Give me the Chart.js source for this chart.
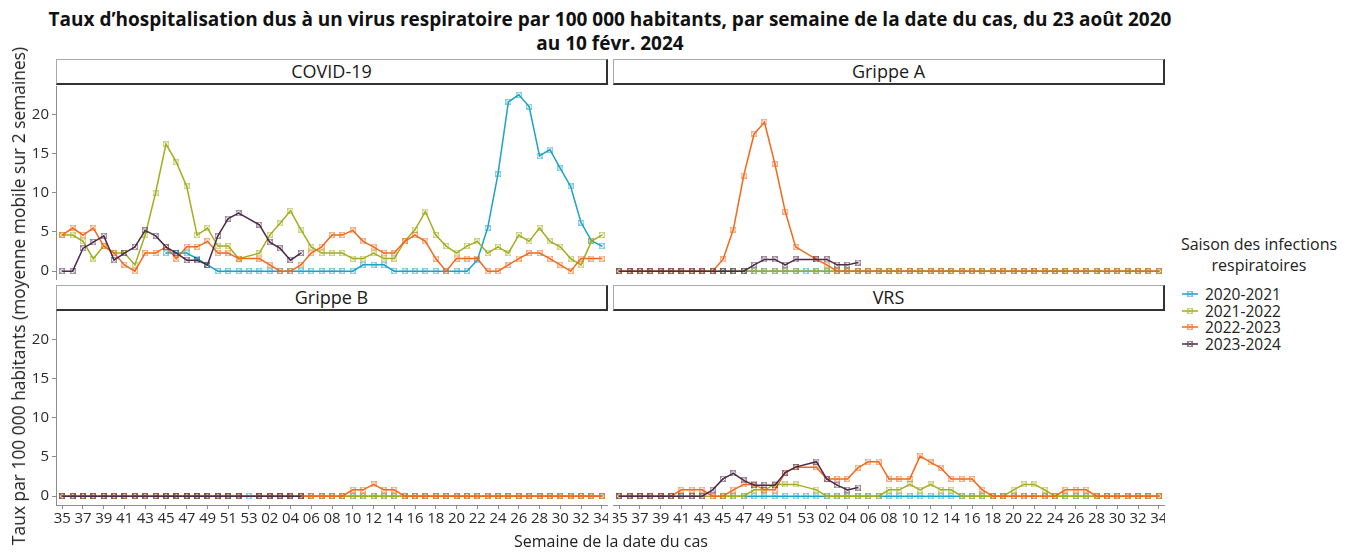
<!DOCTYPE html>
<html>
<head>
<meta charset="utf-8">
<title>Taux d'hospitalisation - virus respiratoires</title>
<script src="https://cdn.jsdelivr.net/npm/chart.js"></script>
<style>
    body { margin: 0; width: 1354px; height: 552px; background: #ffffff; position: relative; overflow: hidden; font-family: 'Open Sans', sans-serif; color: #222; }
    .title { position: absolute; left: 0; width: 1220px; top: 7px; text-align: center; font-weight: 700; font-size: 19px; line-height: 24px; color: #111; }
    .strip { position: absolute; box-sizing: border-box; height: 26px; border-top: 1px solid #aaa; border-left: 1px solid #aaa; border-right: 2px solid #333; border-bottom: 2px solid #333; text-align: center; font-size: 18px; line-height: 22px; color: #1a1a1a; background: #fff; }
    canvas { position: absolute; }
    .ytitle { position: absolute; left: 18px; top: 296px; transform: translate(-50%, -50%) rotate(-90deg); white-space: nowrap; font-size: 17.4px; color: #222; }
    .xtitle { position: absolute; left: 0; width: 1222px; top: 530px; text-align: center; font-size: 16px; color: #222; }
    .legend { position: absolute; left: 1171px; top: 234px; width: 176px; font-size: 16px; color: #222; }
    .legend .lt { text-align: center; line-height: 21px; margin-bottom: 10px; }
    .legend .item { height: 16.7px; line-height: 16.7px; position: relative; }
    .legend .item svg { position: absolute; left: 10px; top: 2px; }
    .legend .item span { margin-left: 34px; font-size: 15.5px; }
</style>
</head>
<body>
<div class="title">Taux d’hospitalisation dus à un virus respiratoire par 100 000 habitants, par semaine de la date du cas, du 23 août 2020<br>au 10 févr. 2024</div>

<div class="strip" style="left:56px; top:59px; width:552px;">COVID-19</div>
<div class="strip" style="left:613px; top:59px; width:552px;">Grippe A</div>
<div class="strip" style="left:56px; top:285px; width:552px;">Grippe B</div>
<div class="strip" style="left:613px; top:285px; width:552px;">VRS</div>

<canvas id="covid" width="608" height="194" style="left:0; top:86px;"></canvas>
<canvas id="grippeA" width="552" height="194" style="left:613px; top:86px;"></canvas>
<canvas id="grippeB" width="608" height="224" style="left:0; top:311px;"></canvas>
<canvas id="vrs" width="552" height="224" style="left:613px; top:311px;"></canvas>

<div class="ytitle">Taux par 100 000 habitants (moyenne mobile sur 2 semaines)</div>
<div class="xtitle">Semaine de la date du cas</div>
<div class="legend" id="legend">
    <div class="lt">Saison des infections<br>respiratoires</div>
</div>

<script>
// Semaines (axe x) : 35..52, 53, 01..34
const weeks = ['35','36','37','38','39','40','41','42','43','44','45','46','47','48','49','50','51','52','53',
    '01','02','03','04','05','06','07','08','09','10','11','12','13','14','15','16','17','18','19','20',
    '21','22','23','24','25','26','27','28','29','30','31','32','33','34'];
const seasons = ['2020-2021', '2021-2022', '2022-2023', '2023-2024'];
const colors = ['#1ba3c6', '#a3ad1e', '#f2691c', '#4d2a47'];
const yTicks = [0, 5, 10, 15, 20];

const N = null;
const zeros = (n) => Array(n).fill(0);
const nulls = (n) => Array(n).fill(null);

// COVID-19
const covid2020 = [...nulls(10), 2.3, 2.3, 2.3, 1.6, 0.8, ...zeros(14), 0.8, 0.8, 0.8, ...zeros(8),
    1.4, 5.5, 12.4, 21.6, 22.5, 21.0, 14.7, 15.5, 13.1, 10.8, 6.2, 3.9, 3.2];
const covid2021 = [4.6, 4.6, 3.8, 1.6, 3.2, 2.3, 2.3, 0.8, 4.6, 10.0, 16.2, 13.9, 10.8, 4.6, 5.5, 3.2, 3.2, 1.6, N,
    2.3, 4.6, 6.1, 7.7, 5.3, 3.1,
    2.3, 2.3, 2.3, 1.6, 1.6, 2.3, 1.6, 1.6, 3.8, 5.3, 7.6, 4.6, 3.2, 2.3, 3.2, 3.8,
    2.3, 3.1, 2.3, 4.6, 3.8, 5.5, 3.8, 3.1, 1.6, 0.8, 3.8, 4.6];
const covid2022 = [4.6, 5.5, 4.6, 5.5, 3.2, 2.3, 0.8, 0, 2.3, 2.3, 3.1, 1.6, 3.1, 3.1, 3.8, 2.3, 2.3, 1.6, N,
    1.6, 0.8, 0, 0, 0.8, 2.3,
    3.1, 4.6, 4.6, 5.2, 3.8, 3.1, 2.3, 2.3, 3.8, 4.6, 3.8, 1.6, 0, 1.6, 1.6, 1.6,
    0, 0, 0.8, 1.6, 2.3, 2.3, 1.6, 0.8, 0, 1.6, 1.6, 1.6];
const covid2023 = [0, 0, 2.9, 3.7, 4.5, 1.4, 2.3, 3.1, 5.2, 4.5, 3.1, 2.3, 1.4, 1.4, 0.8, 4.5, 6.7, 7.4, N,
    5.9, 3.7, 2.9, 1.4, 2.3, ...nulls(29)];

// Grippe A
const grippeA2020 = [...nulls(10), ...zeros(43)];
const grippeA2021 = [...zeros(18), N, ...zeros(34)];
const grippeA2022 = [...zeros(10), 1.5, 5.3, 12.2, 17.5, 19.0, 13.7, 7.6, 3.1, N, 1.5, 0.8, ...zeros(32)];
const grippeA2023 = [...zeros(13), 0.8, 1.5, 1.5, 0.8, 1.5, N, 1.5, 1.5, 0.8, 0.8, 1.1, ...nulls(29)];

// Grippe B
const grippeB2020 = [...nulls(10), ...zeros(43)];
const grippeB2021 = [...zeros(18), N, ...zeros(34)];
const grippeB2022 = [...zeros(18), N, ...zeros(9), 0.8, 0.8, 1.5, 0.8, 0.8, ...zeros(20)];
const grippeB2023 = [...zeros(18), N, ...zeros(5), ...nulls(29)];

// VRS
const vrs2020 = [...nulls(10), ...zeros(43)];
const vrs2021 = [...zeros(13), 0.8, 0.8, 1.5, 1.5, 1.5, N, 0.8, ...zeros(6),
    0.8, 0.8, 1.5, 0.8, 1.5, 0.8, 0.8, ...zeros(5), 0.8, 1.5, 1.5, 0.8, ...zeros(11)];
const vrs2022 = [...zeros(6), 0.8, 0.8, 0.8, 0, 0, 0.8, 1.5, 1.5, 0.8, 0.8, 3.0, 3.7, N,
    3.7, 2.2, 2.2, 2.2, 3.6, 4.4, 4.4, 2.2, 2.2, 2.2, 5.1, 4.3, 3.6, 2.2, 2.2, 2.2, 0.8,
    ...zeros(7), 0.8, 0.8, 0.8, ...zeros(7)];
const vrs2023 = [...zeros(9), 0.8, 2.2, 2.9, 2.0, 1.4, 1.4, 1.4, 3.0, 3.7, N,
    4.4, 2.2, 1.4, 0.8, 1.1, ...nulls(29)];

// marqueur carré barré (comme shape 7 de ggplot)
function makeMarker(color) {
    const c = document.createElement('canvas');
    c.width = 6; c.height = 6;
    const g = c.getContext('2d');
    g.globalAlpha = 0.5;
    g.strokeStyle = color;
    g.lineWidth = 1;
    g.strokeRect(0.5, 0.5, 5, 5);
    g.beginPath();
    g.moveTo(0.5, 0.5); g.lineTo(5.5, 5.5);
    g.moveTo(5.5, 0.5); g.lineTo(0.5, 5.5);
    g.stroke();
    return c;
}
const markers = colors.map(makeMarker);

const axisColor = '#8c8c8c';
const tickFont = { family: 'Open Sans', size: 15 };

// pas de marge automatique pour les étiquettes : la zone du graphique = le panneau
function noPad(s) { s.paddingTop = 0; s.paddingBottom = 0; s.paddingLeft = 0; s.paddingRight = 0; }

function makePanel(id, series, showY, showX) {
    new Chart(document.getElementById(id), {
        type: 'line',
        data: {
            datasets: series.map((vals, k) => ({
                label: seasons[k],
                data: vals.map((v, i) => ({ x: i, y: v })),
                borderColor: colors[k],
                backgroundColor: colors[k],
                borderWidth: 1.5,
                pointStyle: markers[k],
                pointRadius: 3,
                spanGaps: true,
                tension: 0,
                order: 4 - k
            }))
        },
        options: {
            responsive: false,
            animation: false,
            events: [],
            layout: { padding: 0, autoPadding: false },
            plugins: { legend: { display: false }, tooltip: { enabled: false } },
            scales: {
                x: {
                    type: 'linear',
                    min: -0.6,
                    max: 52.6,
                    display: showX,
                    afterBuildTicks: (s) => { s.ticks = weeks.map((w, i) => ({ value: i })).filter(t => t.value % 2 === 0); },
                    afterFit: (s) => { s.height = showX ? 30 : 0; noPad(s); },
                    grid: { drawOnChartArea: false, drawTicks: true, tickLength: 4, color: axisColor },
                    border: { display: true, color: axisColor, width: 1 },
                    ticks: { autoSkip: false, maxRotation: 0, padding: 1, color: '#2b2b2b', font: tickFont,
                        callback: (v) => weeks[v] }
                },
                y: {
                    min: -1.13,
                    max: 23.62,
                    display: showY,
                    afterBuildTicks: (s) => { s.ticks = yTicks.map(v => ({ value: v })); },
                    afterFit: (s) => { s.width = showY ? 56 : 0; noPad(s); },
                    grid: { drawOnChartArea: false, drawTicks: true, tickLength: 4, color: axisColor },
                    border: { display: true, color: axisColor, width: 1 },
                    ticks: { padding: 3, color: '#2b2b2b', font: tickFont }
                }
            }
        }
    });
}

makePanel('covid', [covid2020, covid2021, covid2022, covid2023], true, false);
makePanel('grippeA', [grippeA2020, grippeA2021, grippeA2022, grippeA2023], false, false);
makePanel('grippeB', [grippeB2020, grippeB2021, grippeB2022, grippeB2023], true, true);
makePanel('vrs', [vrs2020, vrs2021, vrs2022, vrs2023], false, true);

// légende
const legend = document.getElementById('legend');
seasons.forEach((s, k) => {
    const d = document.createElement('div');
    d.className = 'item';
    d.innerHTML = '<svg width="18" height="12"><line x1="1" y1="6" x2="17" y2="6" stroke="' + colors[k] +
        '" stroke-width="1.5"/><g stroke="' + colors[k] + '" stroke-opacity="0.55" fill="none">' +
        '<rect x="6.5" y="3.5" width="5" height="5"/><path d="M6.5 3.5 L11.5 8.5 M11.5 3.5 L6.5 8.5"/></g></svg>' +
        '<span>' + s + '</span>';
    legend.appendChild(d);
});
</script>
</body>
</html>
